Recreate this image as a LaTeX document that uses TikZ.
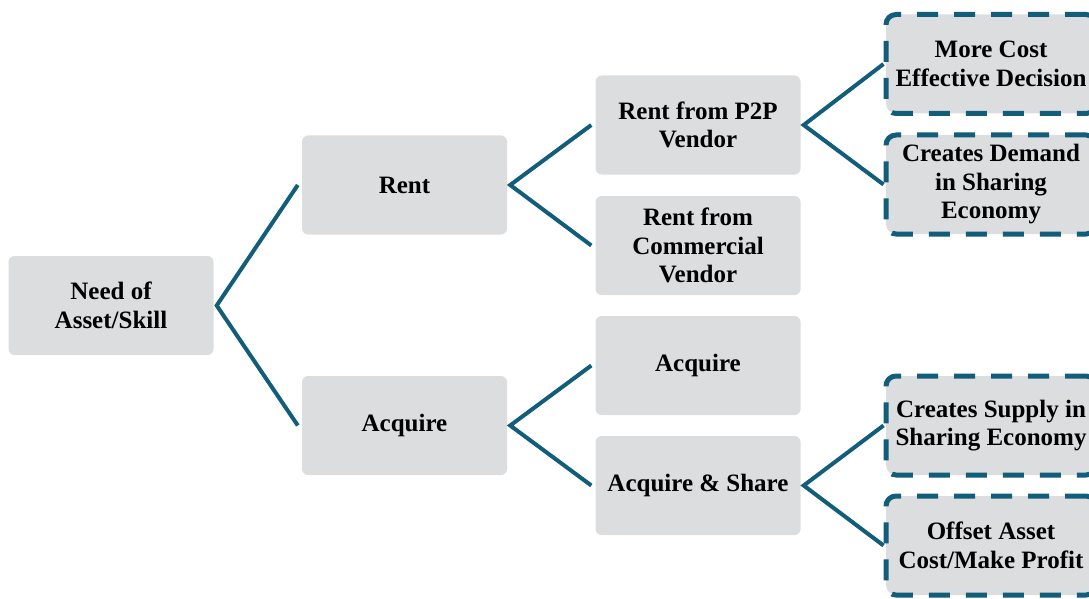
\documentclass[tikz,border=0pt]{standalone}
\usepackage{fontspec}
\setmainfont{Liberation Serif}
\definecolor{linkblue}{HTML}{125D7A}
\definecolor{boxgrey}{HTML}{DCDDDF}
\begin{document}
\begin{tikzpicture}[x=1pt,y=-1pt,
  box/.style={fill=boxgrey, rounded corners=6pt, minimum width=205pt,
    minimum height=99pt, inner sep=0pt, align=center,
    font=\fontsize{25}{28.5}\selectfont\bfseries},
  outcome/.style={box, draw=linkblue, line width=5pt, minimum width=210pt,
    dash pattern=on 21pt off 16pt, rounded corners=10pt},
  link/.style={draw=linkblue, line width=4pt, line join=miter}]
\clip (0,0) rectangle (1089,599);
\useasboundingbox (0,0) rectangle (1089,599);

% first level
\node[box] (need) at (111,305.5) {Need of\\Asset/Skill};
% second level
\node[box] (rent) at (404.5,185) {Rent};
\node[box] (acq)  at (404.5,425.5) {Acquire};
% third level
\node[box] (p2p)   at (698,125)   {Rent from P2P\\Vendor};
\node[box] (comm)  at (698,245.5) {Rent from\\Commercial\\Vendor};
\node[box] (own)   at (698,365.5) {Acquire};
\node[box] (share) at (698,485.5) {Acquire \& Share};
% outcomes
\node[outcome] (cost)   at (991,64)    {More Cost\\Effective Decision};
\node[outcome] (demand) at (991,184.5) {Creates Demand\\in Sharing\\Economy};
\node[outcome] (supply) at (991,425.5) {Creates Supply in\\Sharing Economy};
\node[outcome] (profit) at (991,545.5) {Offset Asset\\Cost/Make Profit};

% branching connectors
\draw[link] ([xshift=-4pt]rent.west) -- ([xshift=3pt]need.east) -- ([xshift=-4pt]acq.west);
\draw[link] ([xshift=-4pt]p2p.west) -- ([xshift=3pt]rent.east) -- ([xshift=-4pt]comm.west);
\draw[link] ([xshift=-4pt]own.west) -- ([xshift=3pt]acq.east) -- ([xshift=-4pt]share.west);
\draw[link] (cost.west) -- ([xshift=3pt]p2p.east) -- (demand.west);
\draw[link] (supply.west) -- ([xshift=3pt]share.east) -- (profit.west);
\end{tikzpicture}
\end{document}
